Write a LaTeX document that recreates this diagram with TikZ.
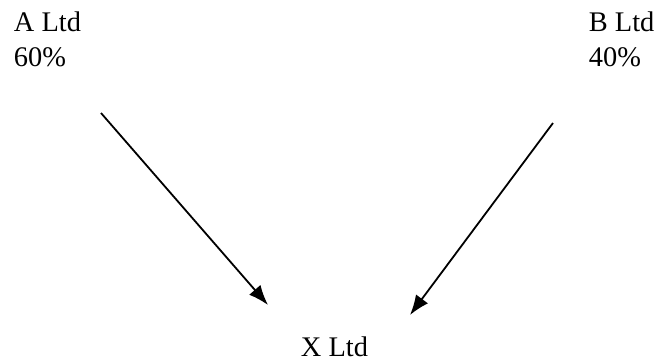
\documentclass[tikz,border=0pt]{standalone}
\usepackage{fontspec}
\setmainfont{Liberation Serif}
\usetikzlibrary{arrows.meta}

\begin{document}
\begin{tikzpicture}[x=0.5pt,y=-0.5pt,>={Latex[length=10pt,width=7.5pt]},line width=0.9pt,
  every node/.style={inner sep=0pt,anchor=base west,font=\fontsize{14.2}{17.5}\selectfont}]
\useasboundingbox (0,0) rectangle (660,360);
\node (A) at (13,31) {A Ltd};
\node (Ap) at (13,66) {60\%};
\node (B) at (588,31) {B Ltd};
\node (Bp) at (588,66) {40\%};
\node (X) at (300,356) {X Ltd};
\coordinate (a) at (101,113);
\coordinate (b) at (553,123);
\coordinate (x1) at (268,305);
\coordinate (x2) at (410,315);
\draw[->] (a) -- (x1);
\draw[->] (b) -- (x2);
\end{tikzpicture}
\end{document}
